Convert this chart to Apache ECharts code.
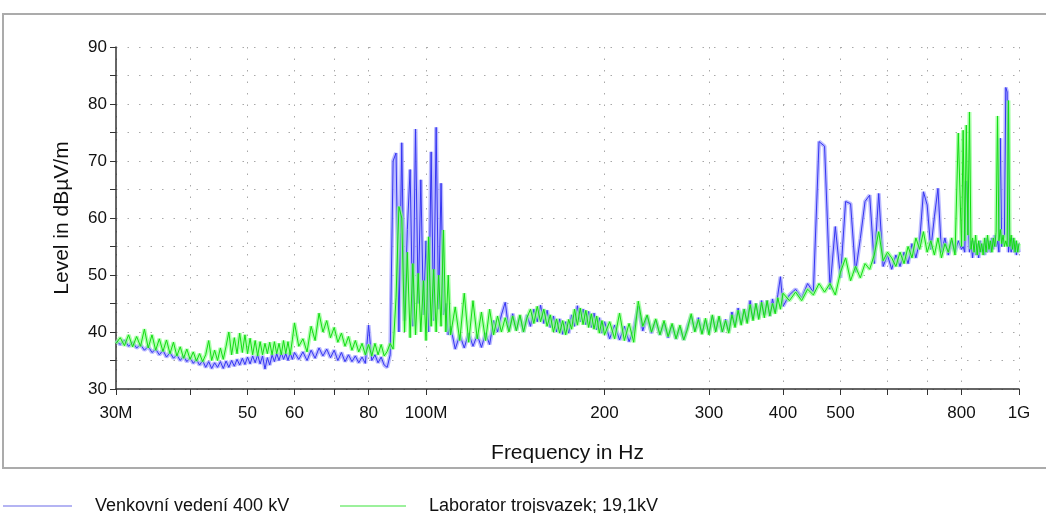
<!DOCTYPE html>
<html><head><meta charset="utf-8">
<script src="https://cdn.jsdelivr.net/npm/echarts@6/dist/echarts.min.js"></script>
<style>html,body{margin:0;padding:0;background:#fff}#c{width:1046px;height:513px}</style>
</head><body><div id="c"></div>
<script>
// Frequencies in MHz, per band
const freqA = [30,30.5,31,31.5,32,32.5,33,33.5,34,34.5,35,35.5,36,36.5,37,37.5,38,38.5,39,39.5,40,40.5,41,41.5,42,42.5,43,43.5,44,44.5,45,45.5,46,46.5,47,47.5,48,48.5,49,49.5,50,50.5,51,51.5,52,52.5,53,53.5,54,54.5,55,55.5,56,56.5,57,57.5,58,58.5,59,59.5,60];
const freqB = [61,62,63,64,65,66,67,68,69,70,71,72,73,74,75,76,77,78,79,80,81,82,83,84,85,86,87,88,89,90,91,92,93,94,95,96,97,98,99,100,101,102,103,104,105,106,107,108,109,110];
const freqC = [112,114,116,118,120,122,124,126,128,130,132,134,136,138,140,142,144,146,148,150,152,154,156,158,160,162,164,166,168,170,172,174,176,178,180,182,184,186,188,190,192,194,196,198,200];
const freqD = [204,208,212,216,220,224,228,232,236,240,244,248,252,256,260,264,268,272,276,280,284,288,292,296,300,304,308,312,316,320,324,328,332,336,340,344,348,352,356,360,364,368,372,376,380,384,388,392,396,400];
const freqE = [410,420,430,440,450,460,470,480,490,500,510,520,530,540,550,560,570,580,590,600,610,620,630,640,650,660,670,680,690,700,710,720,730,740,750,760,770,780,790,800];
const freqF = [805,810,815,820,825,830,835,840,845,850,855,860,865,870,875,880,885,890,895,900,905,910,915,920,925,930,935,940,945,950,955,960,965,970,975,980,985,990,995,1000];

// "Venkovní vedení 400 kV" levels (dBµV/m)
const blueA = [38.5,37.8,38.6,37.5,38.2,37.2,37.8,36.8,37.5,36.4,37.0,36.0,36.8,35.6,36.4,35.4,36.0,35.0,35.8,34.8,35.5,34.5,35.2,34.2,35.0,33.8,34.8,33.6,34.6,33.8,34.8,33.6,34.9,33.8,35.0,34.0,35.2,34.2,35.4,34.3,35.6,34.4,35.8,34.6,36.0,34.4,35.8,33.5,35.5,34.2,36.0,34.8,36.2,35.0,36.4,35.2,36.2,35.0,36.4,35.2,36.4];
const blueB = [35.2,36.5,35.0,36.8,35.4,37.2,35.8,37.0,35.5,36.8,35.0,36.4,34.8,36.0,34.8,35.8,34.6,35.6,34.5,41.2,35.0,36.0,34.6,35.6,34.2,
               33.8,36.0,70.0,71.4,40.0,73.2,42.0,58.0,68.5,41.0,75.6,45.0,66.7,43.0,56.0,40.0,71.6,42.0,75.9,44.0,66.1,43.0,45.0,39.5,41.0];
const blueC = [37.0,39.5,37.2,39.8,37.5,39.5,37.3,39.8,37.8,42.0,40.0,43.0,45.2,40.2,43.2,40.3,42.8,40.0,43.0,41.0,44.0,41.8,44.7,41.5,43.8,40.8,42.8,40.0,42.3,39.6,41.8,39.8,43.0,41.0,44.6,41.8,44.0,41.3,43.6,40.8,43.3,40.4,42.5,39.8,41.8];
const blueD = [38.8,41.2,38.6,41.0,38.3,40.5,44.5,40.2,42.8,39.8,42.0,39.5,41.5,39.0,41.2,38.8,40.8,38.6,41.0,42.8,40.2,42.5,39.8,42.0,39.8,42.8,40.2,42.5,40.0,42.2,40.2,43.5,41.2,44.2,41.5,44.0,41.8,45.5,42.3,45.0,42.5,45.5,43.0,45.5,42.8,45.8,43.5,46.5,49.7,44.5];
const blueE = [46.5,47.5,46.0,48.5,47.0,73.4,72.6,47.5,58.5,49.5,62.9,62.5,50.5,56.4,62.9,64.0,52.0,64.3,51.5,53.5,51.0,53.5,51.5,54.0,52.0,55.5,53.0,56.0,64.6,62.3,54.5,60.2,65.2,54.0,56.5,53.5,56.0,54.0,56.0,54.5];
const blueF = [55,54,66.5,61.2,54,56,53,56,53.5,55.5,53,56,54,55.5,53.5,56.5,54,56,54,56.5,54.5,57,55,56,54,74,55,56,57,82.9,82.1,54,56.5,54,56.5,54,56,53.5,55.5,54];

// "Laborator trojsvazek; 19,1kV" levels (dBµV/m)
const greenA = [38.0,39.0,37.6,39.5,37.4,39.2,37.5,40.5,37.2,39.5,36.8,38.8,36.6,38.6,36.2,38.2,35.8,37.4,35.4,37.0,35.2,36.5,34.9,36.2,34.8,36.0,38.5,35.0,36.8,35.0,37.2,35.2,37.5,40.0,36.0,39.0,36.2,39.8,36.4,39.5,36.2,38.9,36.0,38.5,35.8,38.3,36.0,38.0,36.2,38.2,36.0,38.3,36.2,38.0,36.0,38.5,36.2,38.3,36.0,38.6,41.6];
const greenB = [37.5,38.8,36.5,41.0,38.5,43.3,40.0,42.0,39.0,40.8,38.2,39.8,37.5,39.2,36.8,38.5,36.5,38.0,36.0,37.8,35.8,38.0,36.0,37.8,35.8,
                36.6,38.0,37.0,46.0,62.0,60.0,40.0,54.0,39.0,52.0,39.5,50.3,40.0,49.0,38.5,56.7,41.0,51.0,40.0,50.0,41.0,57.9,40.0,50.0,39.5];
const greenC = [44.4,38.5,46.8,38.2,45.5,38.8,43.5,38.5,44.0,39.5,42.8,40.0,42.5,40.0,42.8,40.2,43.0,40.0,42.5,44.0,41.5,44.5,41.8,44.0,41.0,43.0,40.0,42.3,39.8,42.0,39.5,42.2,40.5,44.0,41.2,44.2,41.3,43.8,40.8,43.2,40.5,42.8,39.8,42.0,39.5];
const greenD = [41.8,38.8,43.3,38.5,41.5,38.2,45.4,41.0,43.0,40.0,42.3,39.5,42.0,39.2,41.5,38.8,41.2,38.6,40.5,43.2,40.0,42.2,39.6,42.4,39.5,43.0,40.0,42.8,40.0,42.0,39.8,43.0,40.8,43.8,41.2,44.0,41.5,44.8,42.0,45.0,42.2,45.2,42.5,45.5,42.8,45.0,43.2,46.0,44.0,46.8];
const greenE = [45.5,47.0,45.5,47.5,46.5,48.5,47.0,48.5,46.5,50.5,53.0,49.0,51.5,49.5,52.0,51.0,53.5,57.6,52.5,54.0,53.0,51.5,54.0,52.0,55.0,53.0,56.5,54.5,57.6,54.0,56.0,53.5,56.5,53.0,55.5,54.0,56.5,53.5,74.9,55.0];
const greenF = [75.4,56,76.3,57,78.6,54.5,56.5,54,57,53.5,56,54,55.5,53.5,56.5,54,57,54.5,56,54,56.5,55,57.5,77.9,56,58,55.5,57,55,56,55,80.6,55,57,54.5,56.5,54,56,54,55.5];

// Axis ticks
const xTickValues = [30,40,50,60,70,80,100,200,300,400,500,600,700,800,1000];
const xLabelValues = [30,50,60,80,100,200,300,400,500,800,1000];
const xLabelNames = {30:'30M',100:'100M',1000:'1G'};
const seriesNames = ['Venkovní vedení 400 kV','Laborator trojsvazek; 19,1kV'];

const freq = [].concat(freqA,freqB,freqC,freqD,freqE,freqF);
const blue = [].concat(blueA,blueB,blueC,blueD,blueE,blueF);
const green = [].concat(greenA,greenB,greenC,greenD,greenE,greenF);
const blueData = freq.map((f,i)=>[f, blue[i]]);
const greenData = freq.map((f,i)=>[f, green[i]]);

const FONT = '"Liberation Sans", Arial, sans-serif';
const dotted = {color:'#a8a8a8', width:1, type:[1.5,10]};
const legendText = {fontFamily:FONT, fontSize:18, color:'#111', padding:[0,0,0,18]};
const chart = echarts.init(document.getElementById('c'), null, {renderer:'canvas'});
chart.setOption({
  animation:false,
  backgroundColor:'#ffffff',
  graphic:[{type:'rect', shape:{x:3,y:14,width:1050,height:454}, style:{fill:'none', stroke:'#ababab', lineWidth:2}, silent:true, z:-1}],
  grid:{left:116, right:27, top:47, bottom:124},
  legend:[
    {left:-2, top:492, itemWidth:69, itemHeight:1, icon:'rect', textStyle:legendText,
     data:[{name:seriesNames[0], itemStyle:{color:'#6a6ae8'}}]},
    {left:335, top:492, itemWidth:66, itemHeight:1, icon:'rect', textStyle:legendText,
     data:[{name:seriesNames[1], itemStyle:{color:'#3be43b'}}]}
  ],
  xAxis:{
    type:'log', logBase:10, min:30, max:1000,
    name:'Frequency in Hz', nameLocation:'middle', nameGap:54,
    nameTextStyle:{fontFamily:FONT, fontSize:21, color:'#111'},
    axisLine:{show:true, lineStyle:{color:'#333', width:1.5}},
    axisTick:{show:true, customValues:xTickValues, length:6, lineStyle:{color:'#333'}},
    axisLabel:{customValues:xLabelValues, margin:16, fontFamily:FONT, fontSize:17, color:'#111',
      formatter:function(v){ const k = Math.round(v); return xLabelNames[k] || String(k); }},
    splitLine:{show:true, lineStyle:dotted},
    minorTick:{show:false}
  },
  yAxis:{
    type:'value', min:30, max:90, interval:10,
    name:'Level in dBµV/m', nameLocation:'middle', nameGap:43, nameRotate:90,
    nameTextStyle:{fontFamily:FONT, fontSize:21, color:'#111'},
    axisLine:{show:true, lineStyle:{color:'#333', width:1.5}},
    axisTick:{show:true, length:6, lineStyle:{color:'#333'}},
    minorTick:{show:true, splitNumber:2, length:6, lineStyle:{color:'#333'}},
    axisLabel:{margin:9, fontFamily:FONT, fontSize:17, color:'#111'},
    splitLine:{show:true, lineStyle:dotted},
    minorSplitLine:{show:true, lineStyle:dotted}
  },
  series:[
    {name:'blueBand', type:'line', showSymbol:false, symbol:'none', silent:true,
     lineStyle:{width:4, color:'#a4a4ff', opacity:0.75}, data:blueData, z:1},
    {name:seriesNames[0], type:'line', showSymbol:false, symbol:'none', color:'#6a6ae8',
     lineStyle:{width:1, color:'#3535f2'}, data:blueData, z:2},
    {name:'greenBand', type:'line', showSymbol:false, symbol:'none', silent:true,
     lineStyle:{width:4, color:'#8cff8c', opacity:0.7}, data:greenData, z:3},
    {name:seriesNames[1], type:'line', showSymbol:false, symbol:'none', color:'#3be43b',
     lineStyle:{width:1, color:'#12dc12'}, data:greenData, z:4}
  ]
});
</script></body></html>
